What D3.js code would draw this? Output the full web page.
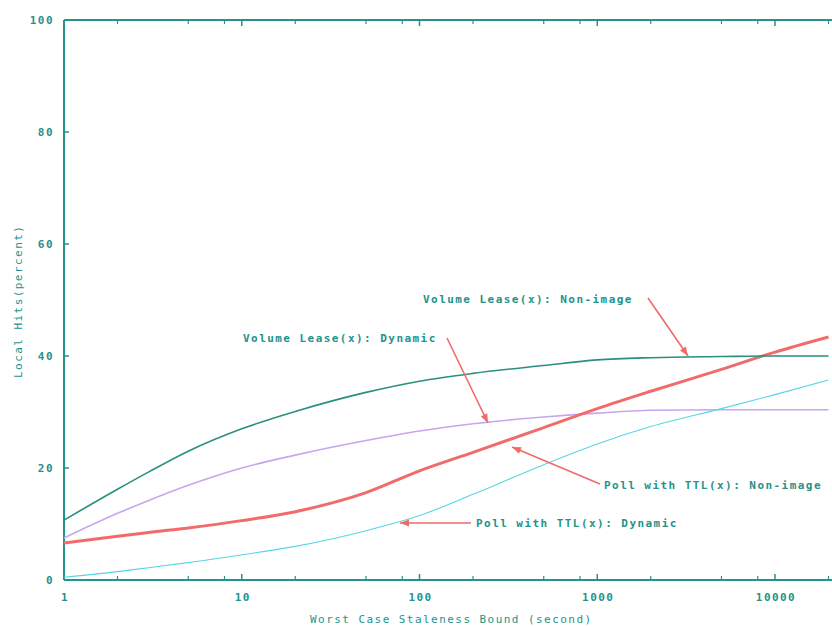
<!DOCTYPE html>
<html><head><meta charset="utf-8">
<script src="https://cdn.jsdelivr.net/npm/d3@7"></script>
<style>
html,body{margin:0;padding:0;background:#fff;}
svg text{font-family:"DejaVu Sans Mono","Liberation Mono",monospace;}
</style></head>
<body><svg id="c" width="832" height="627"></svg>
<script>
const staleness = [1, 2, 3, 5, 10, 20, 50, 100, 200, 500, 1000, 2000, 5000, 10000, 20000];
const vlNonImage = [10.7, 16.2, 19.3, 23.0, 27.0, 30.1, 33.5, 35.5, 36.9, 38.3, 39.3, 39.7, 39.9, 40, 40];
const vlDynamic  = [7.5, 11.9, 14.2, 16.9, 20.0, 22.3, 24.9, 26.6, 27.9, 29.1, 29.8, 30.3, 30.4, 30.4, 30.4];
const ttlNonImage = [6.6, 7.8, 8.5, 9.3, 10.6, 12.2, 15.6, 19.5, 22.8, 27.2, 30.6, 33.7, 37.6, 40.7, 43.4];
const ttlDynamic  = [0.5, 1.5, 2.2, 3.1, 4.5, 6.0, 8.8, 11.5, 15.3, 20.6, 24.3, 27.4, 30.6, 33.1, 35.7];
const yTicks = [0, 20, 40, 60, 80, 100];
const xTicks = [1, 10, 100, 1000, 10000];
const xMinorMult = [2, 5, 8];
const annText = ["Volume Lease(x): Non-image", "Volume Lease(x): Dynamic", "Poll with TTL(x): Non-image", "Poll with TTL(x): Dynamic"];

const svg = d3.select("#c");
const teal = "#23938b";
const x = d3.scaleLog().domain([1, 10000]).range([64, 775]);
const y = d3.scaleLinear().domain([0, 100]).range([580, 20]);
const xMax = 1000;

// frame
svg.append("line").attr("x1",64).attr("x2",xMax).attr("y1",y(0)).attr("y2",y(0)).attr("stroke",teal).attr("stroke-width",2);
svg.append("line").attr("x1",64).attr("x2",xMax).attr("y1",y(100)).attr("y2",y(100)).attr("stroke",teal).attr("stroke-width",2);
svg.append("line").attr("x1",x(1)).attr("x2",x(1)).attr("y1",y(100)).attr("y2",y(0)).attr("stroke",teal).attr("stroke-width",2);

const font = {size: 11, ls: 1.45};
// y ticks
yTicks.forEach(t => {
  if (t>0 && t<100) svg.append("line").attr("x1",64).attr("x2",69).attr("y1",y(t)).attr("y2",y(t)).attr("stroke",teal).attr("stroke-width",1.5);
  svg.append("text").attr("x",54).attr("y",y(t)+4).attr("text-anchor","end")
    .attr("font-size",font.size).attr("letter-spacing",font.ls).attr("fill",teal).attr("font-weight","bold").text(t);
});
// x ticks
const allDec = [1,10,100,1000,10000,100000];
allDec.forEach(d => {
  if (d>1) {
    [[580,-6],[20,6]].forEach(([yy,len]) => svg.append("line").attr("x1",x(d)).attr("x2",x(d)).attr("y1",yy).attr("y2",yy+len).attr("stroke",teal).attr("stroke-width",1.5));
  }
  xMinorMult.forEach(m => {
    const v = d*m;
    [[580,-4],[20,4]].forEach(([yy,len]) => svg.append("line").attr("x1",x(v)).attr("x2",x(v)).attr("y1",yy).attr("y2",yy+len).attr("stroke",teal).attr("stroke-width",1.2));
  });
});
xTicks.forEach(t => {
  svg.append("text").attr("x",x(t)+1).attr("y",601).attr("text-anchor","middle")
    .attr("font-size",font.size).attr("letter-spacing",font.ls).attr("fill",teal).attr("font-weight","bold").text(t);
});
// axis titles
svg.append("text").attr("x",310).attr("y",623).attr("font-size",font.size).attr("letter-spacing",font.ls).attr("fill",teal)
  .text("Worst Case Staleness Bound (second)");
svg.append("text").attr("transform","translate(22,378) rotate(-90)").attr("font-size",font.size).attr("letter-spacing",font.ls).attr("fill",teal)
  .text("Local Hits(percent)");

// curves
const line = d3.line().x((d,i)=>x(staleness[i])).y(d=>y(d)).curve(d3.curveMonotoneX);
const series = [
  {v: vlDynamic, c: "#c7a6ee", w: 1.6},
  {v: ttlDynamic, c: "#55d6e6", w: 1.1},
  {v: ttlNonImage, c: "#f26b6b", w: 3},
  {v: vlNonImage, c: "#2b8f7f", w: 1.6},
];
series.forEach(s => svg.append("path").attr("d", line(s.v)).attr("fill","none").attr("stroke",s.c).attr("stroke-width",s.w));

// annotations (label + arrow, in pixels of the label layout)
const red = "#f06a6a";
const pts = [
  {t:[423,303], a:[648,298], b:[688,356]},
  {t:[243,342], a:[447,338], b:[488,423]},
  {t:[604,489], a:[600,484], b:[512,447]},
  {t:[476,527], a:[471,523], b:[400,523]},
];
annText.forEach((txt,i) => {
  svg.append("text").attr("x",pts[i].t[0]).attr("y",pts[i].t[1]).attr("font-size",font.size).attr("letter-spacing",font.ls)
    .attr("fill",teal).attr("font-weight","bold").text(txt);
  const a = pts[i].a, b = pts[i].b;
  svg.append("line").attr("x1",a[0]).attr("y1",a[1]).attr("x2",b[0]).attr("y2",b[1]).attr("stroke",red).attr("stroke-width",1.6);
  const ang = Math.atan2(b[1]-a[1], b[0]-a[0]);
  const L = 9, W = 3.5;
  const p1 = [b[0]-L*Math.cos(ang)+W*Math.sin(ang), b[1]-L*Math.sin(ang)-W*Math.cos(ang)];
  const p2 = [b[0]-L*Math.cos(ang)-W*Math.sin(ang), b[1]-L*Math.sin(ang)+W*Math.cos(ang)];
  svg.append("path").attr("d",`M${b[0]},${b[1]}L${p1[0]},${p1[1]}L${p2[0]},${p2[1]}Z`).attr("fill",red);
});
</script></body></html>
